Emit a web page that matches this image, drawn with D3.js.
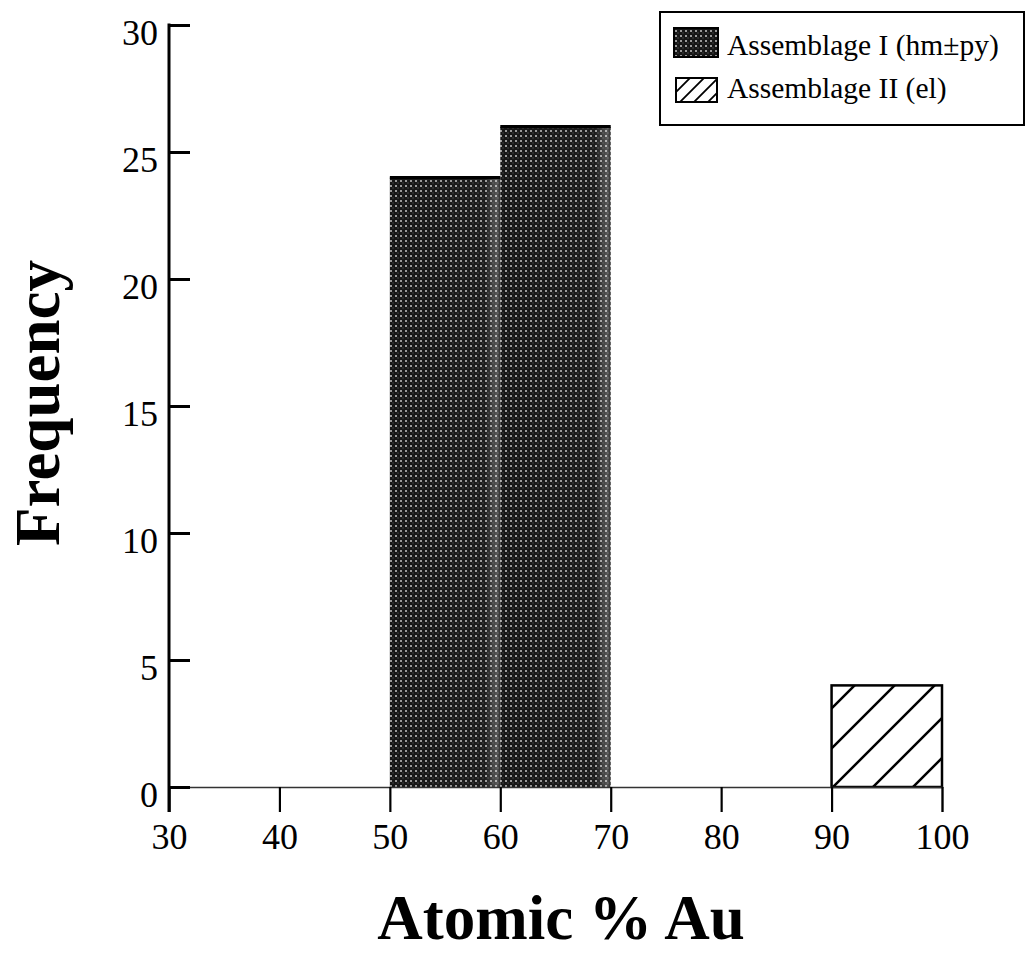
<!DOCTYPE html>
<html>
<head>
<meta charset="utf-8">
<script src="https://cdn.jsdelivr.net/npm/d3@7"></script>
<style>
  html, body { margin: 0; padding: 0; background: #fff; }
  svg { display: block; }
  text { font-family: "Liberation Serif", "Times New Roman", serif; fill: #000; }
</style>
</head>
<body>
<svg width="1029" height="953"></svg>
<script>
// ---- data ----
var binStarts = [30, 40, 50, 60, 70, 80, 90];
var binWidth = 10;
var countsI  = [0, 0, 24, 26, 0, 0, 0];   // Assemblage I (hm±py)
var countsII = [0, 0, 0, 0, 0, 0, 4];     // Assemblage II (el)
var xTicks = [30, 40, 50, 60, 70, 80, 90, 100];
var yTicks = [0, 5, 10, 15, 20, 25, 30];
var seriesNames = ["Assemblage I (hm\u00b1py)", "Assemblage II (el)"];

var svg = d3.select("svg");

// scales
var x = d3.scaleLinear().domain([30, 100]).range([169, 942]);
var y = d3.scaleLinear().domain([0, 30]).range([787, 25]);

// ---- patterns ----
var defs = svg.append("defs");

// speckled dark fill (black screen with grey dots)
var speck = defs.append("pattern")
    .attr("id", "speck")
    .attr("patternUnits", "userSpaceOnUse")
    .attr("width", 5).attr("height", 5);
speck.append("rect").attr("width", 5).attr("height", 5).attr("fill", "#161616");
speck.append("rect").attr("x", 0).attr("y", 0).attr("width", 2).attr("height", 2).attr("fill", "#9a9a9a");
speck.append("rect").attr("x", 2.5).attr("y", 2.5).attr("width", 1).attr("height", 1).attr("fill", "#6a6a6a");

// diagonal hatch for the bar
var hatch = defs.append("pattern")
    .attr("id", "hatch")
    .attr("patternUnits", "userSpaceOnUse")
    .attr("x", 833).attr("y", 787)
    .attr("width", 40).attr("height", 40);
hatch.append("rect").attr("width", 40).attr("height", 40).attr("fill", "#fff");
hatch.append("path")
    .attr("d", "M0,40 L40,0 M-10,10 L10,-10 M30,50 L50,30")
    .attr("stroke", "#000")
    .attr("stroke-width", 2.5);

// finer hatch for the legend key
var hatchKey = defs.append("pattern")
    .attr("id", "hatchKey")
    .attr("patternUnits", "userSpaceOnUse")
    .attr("x", 680).attr("y", 102)
    .attr("width", 14).attr("height", 14);
hatchKey.append("rect").attr("width", 14).attr("height", 14).attr("fill", "#fff");
hatchKey.append("path")
    .attr("d", "M0,14 L14,0 M-4,4 L4,-4 M10,18 L18,10")
    .attr("stroke", "#000")
    .attr("stroke-width", 1.8);

// lighter strip near right edge of the dark bins
var sheen = defs.append("linearGradient")
    .attr("id", "sheen")
    .attr("x1", 0).attr("x2", 1).attr("y1", 0).attr("y2", 0);
sheen.append("stop").attr("offset", "0").attr("stop-color", "#fff").attr("stop-opacity", 0);
sheen.append("stop").attr("offset", "0.86").attr("stop-color", "#fff").attr("stop-opacity", 0.03);
sheen.append("stop").attr("offset", "0.97").attr("stop-color", "#fff").attr("stop-opacity", 0.28);
sheen.append("stop").attr("offset", "1").attr("stop-color", "#fff").attr("stop-opacity", 0.1);

// ---- bars ----
var barsI = binStarts.map(function(b, i) { return { x0: b, x1: b + binWidth, n: countsI[i] }; })
  .filter(function(d) { return d.n > 0; });
var barsII = binStarts.map(function(b, i) { return { x0: b, x1: b + binWidth, n: countsII[i] }; })
  .filter(function(d) { return d.n > 0; });

var gI = svg.append("g").attr("class", "bars-I");
gI.selectAll("rect.fill")
  .data(barsI)
  .enter().append("rect")
    .attr("class", "fill")
    .attr("x", function(d) { return x(d.x0); })
    .attr("y", function(d) { return y(d.n); })
    .attr("width", function(d) { return x(d.x1) - x(d.x0); })
    .attr("height", function(d) { return y(0) - y(d.n); })
    .attr("fill", "url(#speck)");
gI.selectAll("rect.sheen")
  .data(barsI)
  .enter().append("rect")
    .attr("class", "sheen")
    .attr("x", function(d) { return x(d.x0); })
    .attr("y", function(d) { return y(d.n); })
    .attr("width", function(d) { return x(d.x1) - x(d.x0); })
    .attr("height", function(d) { return y(0) - y(d.n); })
    .attr("fill", "url(#sheen)");
gI.selectAll("line.top")
  .data(barsI)
  .enter().append("line")
    .attr("class", "top")
    .attr("x1", function(d) { return x(d.x0); })
    .attr("x2", function(d) { return x(d.x1); })
    .attr("y1", function(d) { return y(d.n); })
    .attr("y2", function(d) { return y(d.n); })
    .attr("stroke", "#000").attr("stroke-width", 3);

svg.append("g").attr("class", "bars-II")
  .selectAll("rect")
  .data(barsII)
  .enter().append("rect")
    .attr("x", function(d) { return x(d.x0); })
    .attr("y", function(d) { return y(d.n); })
    .attr("width", function(d) { return x(d.x1) - x(d.x0); })
    .attr("height", function(d) { return y(0) - y(d.n); })
    .attr("fill", "url(#hatch)")
    .attr("stroke", "#000")
    .attr("stroke-width", 2.5);

// ---- axes ----
// x baseline (thin) and ticks downward
var xAxis = d3.axisBottom(x)
    .tickValues(xTicks)
    .tickSize(25)
    .tickPadding(10)
    .tickFormat(d3.format("d"));
var gx = svg.append("g")
    .attr("transform", "translate(0," + y(0) + ")")
    .call(xAxis);
gx.select(".domain").attr("stroke", "#333").attr("stroke-width", 1.5);
gx.selectAll(".tick line").attr("stroke", "#000").attr("stroke-width", 2.2);
gx.selectAll(".tick text")
    .attr("font-size", 36)
    .attr("font-family", "Liberation Serif, serif")
    .attr("dy", "0.76em");

// y axis: ticks point inward
var yAxis = d3.axisRight(y)
    .tickValues(yTicks)
    .tickSize(21)
    .tickSizeOuter(0)
    .tickFormat(d3.format("d"));
var gy = svg.append("g")
    .attr("transform", "translate(" + x(30) + ",0)")
    .call(yAxis);
gy.select(".domain").remove();
gy.selectAll(".tick line").attr("stroke", "#000").attr("stroke-width", 3);
gy.selectAll(".tick text")
    .attr("x", -11)
    .attr("dy", "0.55em")
    .attr("text-anchor", "end")
    .attr("font-size", 36)
    .attr("font-family", "Liberation Serif, serif");
// vertical spine running down to the bottom of the x ticks
gy.append("line")
    .attr("x1", 0).attr("x2", 0)
    .attr("y1", y(30) - 1.5).attr("y2", y(0) + 25)
    .attr("stroke", "#000").attr("stroke-width", 3);

// ---- axis titles ----
svg.append("text")
    .attr("transform", "translate(59," + ((y(0) + y(30)) / 2 - 3) + ") rotate(-90)")
    .attr("text-anchor", "middle")
    .attr("font-size", 63)
    .attr("font-weight", "bold")
    .text("Frequency");

svg.append("text")
    .attr("x", 561)
    .attr("y", 939)
    .attr("text-anchor", "middle")
    .attr("font-size", 63)
    .attr("font-weight", "bold")
    .text("Atomic % Au");

// ---- legend ----
var legend = svg.append("g").attr("class", "legend");
legend.append("rect")
    .attr("x", 660).attr("y", 12)
    .attr("width", 364).attr("height", 113)
    .attr("fill", "#fff")
    .attr("stroke", "#000").attr("stroke-width", 2);

var keys = [
  { fill: "url(#speck)",    x: 674, y: 28, w: 44, h: 29, ty: 55 },
  { fill: "url(#hatchKey)", x: 676, y: 78, w: 41, h: 24, ty: 98 }
];
var item = legend.selectAll("g.item")
  .data(seriesNames)
  .enter().append("g")
    .attr("class", "item");
item.append("rect")
    .attr("x", function(d, i) { return keys[i].x; })
    .attr("y", function(d, i) { return keys[i].y; })
    .attr("width", function(d, i) { return keys[i].w; })
    .attr("height", function(d, i) { return keys[i].h; })
    .attr("fill", function(d, i) { return keys[i].fill; })
    .attr("stroke", "#000").attr("stroke-width", 2);
item.append("text")
    .attr("x", 727)
    .attr("y", function(d, i) { return keys[i].ty; })
    .attr("font-size", 29.5)
    .text(function(d) { return d; });
</script>
</body>
</html>
